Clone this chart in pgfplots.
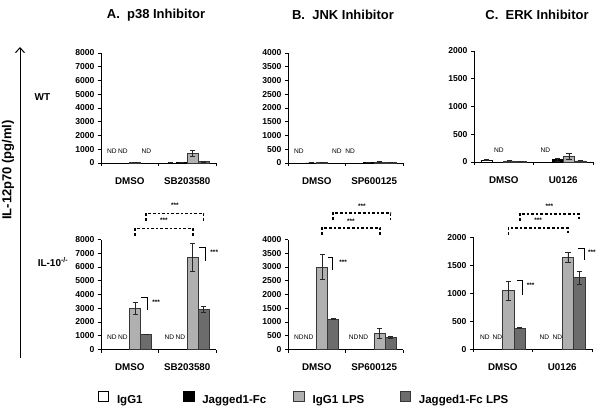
\documentclass[border=0pt]{standalone}
\usepackage{pgfplots}
\pgfplotsset{compat=1.18}
\usepackage{pgfplotstable}
\usepackage{fontspec}
\setmainfont{Liberation Sans}
\usetikzlibrary{arrows.meta}

\definecolor{lgray}{RGB}{176,176,176}
\definecolor{dgray}{RGB}{108,108,108}
\definecolor{edge}{RGB}{55,55,55}

% columns: x, IgG1, err, Jagged1-Fc, err, IgG1 LPS, err, Jagged1-Fc LPS, err  (nan = ND)
\pgfplotstableread{
x a ae b be c ce d de
0 nan 0 nan 0 30 0 nan 0
1 10 0 20 0 700 230 100 30
}\tAtop
\pgfplotstableread{
x a ae b be c ce d de
0 nan 0 nan 0 3000 430 1100 30
1 nan 0 nan 0 6700 1000 2900 200
}\tAbot
\pgfplotstableread{
x a ae b be c ce d de
0 nan 0 5 0 25 0 nan 0
1 nan 0 10 0 40 10 35 5
}\tBtop
\pgfplotstableread{
x a ae b be c ce d de
0 nan 0 nan 0 3000 450 1100 20
1 nan 0 nan 0 600 180 450 30
}\tBbot
\pgfplotstableread{
x a ae b be c ce d de
0 30 10 nan 0 20 0 10 0
1 nan 0 40 30 100 60 20 0
}\tCtop
\pgfplotstableread{
x a ae b be c ce d de
0 nan 0 nan 0 1050 170 380 15
1 nan 0 nan 0 1640 90 1280 120
}\tCbot

\pgfplotsset{
  panel/.style={
    scale only axis, width=115pt, height=110pt, anchor=south west,
    xmin=-0.5, xmax=1.5, ymin=0,
    axis lines*=left, axis line style={line width=0.9pt},
    xtick={-0.5,0.5,1.5}, x tick label as interval,
    tick align=outside, major tick length=3pt,
    every tick/.style={line width=0.8pt, black},
    yticklabel style={font=\bfseries\fontsize{8.6}{10}\selectfont},
    xticklabel style={font=\bfseries\fontsize{9.8}{11}\selectfont, yshift=-8pt},
    /pgf/number format/assume math mode=true,
    /pgf/number format/1000 sep={},
    ybar, bar width=0.19, clip=false,
  },
  s1/.style={fill=white, draw=black, line width=0.7pt, bar shift=-0.285},
  s2/.style={fill=black, draw=black, line width=0.7pt, bar shift=-0.095},
  s3/.style={fill=lgray, draw=edge, line width=0.7pt, bar shift=0.095},
  s4/.style={fill=dgray, draw=edge, line width=0.7pt, bar shift=0.285},
  err/.style={error bars/y dir=both, error bars/y explicit,
    error bars/error bar style={line width=0.8pt, black!85},
    error bars/error mark options={rotate=90, mark size=2.6pt, line width=0.8pt, black!85}},
}
\tikzset{
  sig/.style={line width=1.6pt, dash pattern=on 2.6pt off 2.0pt, black},
  br/.style={line width=0.8pt, black},
  star/.style={font=\bfseries\fontsize{6.5}{7}\selectfont, inner sep=0pt},
  nd/.style={font=\fontsize{6.6}{8}\selectfont, inner sep=0pt},
}

\begin{document}
\begin{tikzpicture}[x=1pt,y=1pt]
\useasboundingbox (0,0) rectangle (600,416);

% ---------- Panel A ----------
\begin{axis}[panel, at={(101pt,253pt)}, ymax=8000, ytick={0,1000,...,8000},
  xticklabels={DMSO,SB203580}]
\addplot[s1,err] table[x=x,y=a,y error=ae]{\tAtop};
\addplot[s2,err] table[x=x,y=b,y error=be]{\tAtop};
\addplot[s3,err] table[x=x,y=c,y error=ce]{\tAtop};
\addplot[s4,err] table[x=x,y=d,y error=de]{\tAtop};
\node[nd] at (axis cs:-0.31,880) {ND};
\node[nd] at (axis cs:-0.12,880) {ND};
\node[nd] at (axis cs:0.29,880) {ND};
\end{axis}

\begin{axis}[panel, at={(101pt,66.5pt)}, ymax=8000, ytick={0,1000,...,8000},
  xticklabels={DMSO,SB203580},
  legend columns=4,
  legend style={at={(-0.03,-0.441)}, anchor=west, draw=none, fill=none, inner sep=0pt,
    font=\bfseries\fontsize{11.5}{13}\selectfont,
    nodes={inner sep=0pt},
    /tikz/every odd column/.append style={column sep=8pt}},
  legend image code/.code={\draw[#1,/tikz/.cd,line width=0.8pt] (0pt,-1.2pt) rectangle (10.5pt,9.3pt);}]
\addplot[s1,err,forget plot] table[x=x,y=a,y error=ae]{\tAbot};
\addplot[s2,err,forget plot] table[x=x,y=b,y error=be]{\tAbot};
\addplot[s3,err,forget plot] table[x=x,y=c,y error=ce]{\tAbot};
\addplot[s4,err,forget plot] table[x=x,y=d,y error=de]{\tAbot};
\addlegendimage{s1}
\addlegendentry[text width=66pt]{IgG1}
\addlegendimage{s2}
\addlegendentry[text width=91pt]{Jagged1-Fc}
\addlegendimage{s3}
\addlegendentry[text width=87pt]{IgG1 LPS}
\addlegendimage{s4}
\addlegendentry{Jagged1-Fc LPS}
\node[nd] at (axis cs:-0.31,880) {ND};
\node[nd] at (axis cs:-0.12,880) {ND};
\node[nd] at (axis cs:0.69,880) {ND};
\node[nd] at (axis cs:0.88,880) {ND};
\draw[br] (axis cs:0.2,3766) -- (axis cs:0.3,3766) -- (axis cs:0.3,2870);
\node[star,anchor=west] at (axis cs:0.39,3470) {***};
\draw[br] (axis cs:1.2,7400) -- (axis cs:1.32,7400) -- (axis cs:1.32,6436);
\node[star,anchor=west] at (axis cs:1.40,7037) {***};
\draw[sig] (axis cs:0.095,8290) -- (axis cs:0.095,8800) -- (axis cs:1.095,8800) -- (axis cs:1.095,8290);
\draw[sig] (axis cs:0.285,9380) -- (axis cs:0.285,9890) -- (axis cs:1.285,9890) -- (axis cs:1.285,9380);
\node[star] at (axis cs:0.595,9400) {***};
\node[star] at (axis cs:0.785,10480) {***};
\end{axis}

% ---------- Panel B ----------
\begin{axis}[panel, at={(288pt,253pt)}, ymax=4000, ytick={0,500,...,4000},
  xticklabels={DMSO,SP600125}]
\addplot[s1,err] table[x=x,y=a,y error=ae]{\tBtop};
\addplot[s2,err] table[x=x,y=b,y error=be]{\tBtop};
\addplot[s3,err] table[x=x,y=c,y error=ce]{\tBtop};
\addplot[s4,err] table[x=x,y=d,y error=de]{\tBtop};
\node[nd] at (axis cs:-0.31,440) {ND};
\node[nd] at (axis cs:0.35,440) {ND};
\node[nd] at (axis cs:0.58,440) {ND};
\end{axis}

\begin{axis}[panel, at={(288pt,66.5pt)}, ymax=4000, ytick={0,500,...,4000},
  xticklabels={DMSO,SP600125}]
\addplot[s1,err] table[x=x,y=a,y error=ae]{\tBbot};
\addplot[s2,err] table[x=x,y=b,y error=be]{\tBbot};
\addplot[s3,err] table[x=x,y=c,y error=ce]{\tBbot};
\addplot[s4,err] table[x=x,y=d,y error=de]{\tBbot};
\node[nd] at (axis cs:-0.31,440) {ND};
\node[nd] at (axis cs:-0.14,440) {ND};
\node[nd] at (axis cs:0.64,440) {ND};
\node[nd] at (axis cs:0.81,440) {ND};
\draw[br] (axis cs:0.196,3363) -- (axis cs:0.28,3363) -- (axis cs:0.28,2890);
\node[star,anchor=west] at (axis cs:0.39,3190) {***};
\draw[sig] (axis cs:0.095,4163) -- (axis cs:0.095,4418) -- (axis cs:1.095,4418) -- (axis cs:1.095,4163);
\draw[sig] (axis cs:0.285,4709) -- (axis cs:0.285,4963) -- (axis cs:1.285,4963) -- (axis cs:1.285,4709);
\node[star] at (axis cs:0.595,4680) {***};
\node[star] at (axis cs:0.785,5220) {***};
\end{axis}

% ---------- Panel C ----------
\begin{axis}[panel, at={(474pt,254pt)}, width=119pt, height=111pt, ymax=2000, ytick={0,500,...,2000},
  xticklabels={DMSO,U0126}]
\addplot[s1,err] table[x=x,y=a,y error=ae]{\tCtop};
\addplot[s2,err] table[x=x,y=b,y error=be]{\tCtop};
\addplot[s3,err] table[x=x,y=c,y error=ce]{\tCtop};
\addplot[s4,err] table[x=x,y=d,y error=de]{\tCtop};
\node[nd] at (axis cs:-0.08,220) {ND};
\node[nd] at (axis cs:0.70,220) {ND};
\end{axis}

\begin{axis}[panel, at={(473pt,66.7pt)}, width=119pt, height=112pt, ymax=2000, ytick={0,500,...,2000},
  xticklabels={DMSO,U0126}]
\addplot[s1,err] table[x=x,y=a,y error=ae]{\tCbot};
\addplot[s2,err] table[x=x,y=b,y error=be]{\tCbot};
\addplot[s3,err] table[x=x,y=c,y error=ce]{\tCbot};
\addplot[s4,err] table[x=x,y=d,y error=de]{\tCbot};
\node[nd] at (axis cs:-0.30,220) {ND};
\node[nd] at (axis cs:-0.09,220) {ND};
\node[nd] at (axis cs:0.70,220) {ND};
\node[nd] at (axis cs:0.92,220) {ND};
\draw[br] (axis cs:0.246,1238) -- (axis cs:0.33,1238) -- (axis cs:0.33,970);
\node[star,anchor=west] at (axis cs:0.40,1148) {***};
\draw[br] (axis cs:1.263,1809) -- (axis cs:1.364,1809) -- (axis cs:1.364,1595);
\node[star,anchor=west] at (axis cs:1.43,1738) {***};
\draw[sig] (axis cs:0.095,2041) -- (axis cs:0.095,2166) -- (axis cs:1.095,2166) -- (axis cs:1.095,2041);
\draw[sig] (axis cs:0.285,2291) -- (axis cs:0.285,2416) -- (axis cs:1.285,2416) -- (axis cs:1.285,2291);
\node[star] at (axis cs:0.595,2309) {***};
\node[star] at (axis cs:0.785,2559) {***};
\end{axis}

% ---------- Titles and side labels ----------
\node[font=\bfseries\fontsize{13}{15}\selectfont] at (156,401) {A.\ \ p38 Inhibitor};
\node[font=\bfseries\fontsize{13}{15}\selectfont] at (343,401) {B.\ \ JNK Inhibitor};
\node[font=\bfseries\fontsize{13}{15}\selectfont] at (537,401) {C.\ \ ERK Inhibitor};
\draw[line width=1pt, -{Straight Barb[length=5pt,width=9pt]}] (20,58) -- (20,369);
\node[rotate=90, font=\bfseries\fontsize{13}{15}\selectfont] at (8,246) {IL-12p70 (pg/ml)};
\node[font=\bfseries\fontsize{10}{12}\selectfont] at (42.5,319) {WT};
\node[font=\bfseries\fontsize{10}{12}\selectfont] at (53,154) {IL-10\textsuperscript{-/-}};
\end{tikzpicture}
\end{document}
